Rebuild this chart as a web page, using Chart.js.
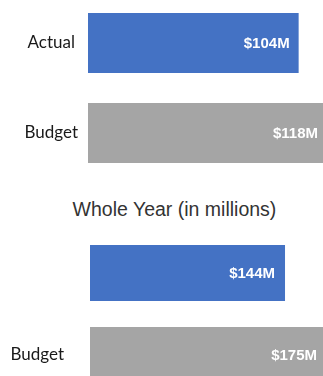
<!DOCTYPE html>
<html>
<head>
<meta charset="utf-8">
<script src="https://cdn.jsdelivr.net/npm/chart.js@4"></script>
<style>
  html, body { margin: 0; padding: 0; background: #fff; }
  body { width: 323px; height: 376px; overflow: hidden; position: relative; }
  .box { position: absolute; left: 0; width: 327px; }
  #boxYtd { top: -2px; height: 180px; }
  #boxYear { top: 232px; height: 164px; }
  #yearTitle {
    position: absolute; left: 0; width: 349px; top: 198px;
    text-align: center; font: 19.5px "Liberation Sans", Arial, sans-serif; color: #333;
  }
</style>
</head>
<body>
<div class="box" id="boxYtd"><canvas id="chartYtd"></canvas></div>
<div id="yearTitle">Whole Year (in millions)</div>
<div class="box" id="boxYear"><canvas id="chartYear"></canvas></div>
<script>
// ── data ──
const ytdLabels = ['Actual', 'Budget'];
const ytdValues = [104, 118];
const yearLabels = ['', 'Budget'];
const yearValues = [144, 175];
const barColors = ['#4472C4', '#A5A5A5'];

// value text inside the right end of each bar
const barValueLabels = {
  id: 'barValueLabels',
  afterDatasetsDraw(chart, args, opts) {
    const ctx = chart.ctx;
    const meta = chart.getDatasetMeta(0);
    const values = chart.data.datasets[0].data;
    ctx.save();
    ctx.font = 'bold 15px "Liberation Sans", Arial, sans-serif';
    ctx.fillStyle = '#fff';
    ctx.textAlign = 'right';
    ctx.textBaseline = 'middle';
    meta.data.forEach((bar, i) => {
      ctx.fillText('$' + values[i] + 'M', bar.x - opts.inset, bar.y + 1);
    });
    ctx.restore();
  },
};

function makeBars(id, labels, values, cfg) {
  return new Chart(document.getElementById(id), {
    type: 'bar',
    data: {
      labels,
      datasets: [{
        data: values,
        backgroundColor: barColors,
        borderWidth: 0,
        barPercentage: cfg.barPct,
        categoryPercentage: 1,
      }],
    },
    options: {
      indexAxis: 'y',
      responsive: true,
      maintainAspectRatio: false,
      animation: false,
      layout: { padding: 0 },
      plugins: {
        legend: { display: false },
        tooltip: { enabled: false },
        barValueLabels: { inset: cfg.inset },
      },
      scales: {
        x: { display: false, min: 0, max: Math.max(...values) },
        y: {
          border: { display: false },
          grid: { display: false, drawTicks: false, tickLength: 0 },
          ticks: {
            color: '#1a1a1a',
            font: { family: 'Lato', size: 17 },
            padding: cfg.tickPad,
            crossAlign: cfg.align,
          },
          // fixed axis width, and no extra room above/below for the labels
          afterFit(axis) {
            axis.width = cfg.axisWidth;
            axis.paddingTop = 0;
            axis.paddingBottom = 0;
          },
        },
      },
    },
    plugins: [barValueLabels],
  });
}

makeBars('chartYtd', ytdLabels, ytdValues, { barPct: 0.667, inset: 9, tickPad: 10, align: 'center', axisWidth: 88 });
makeBars('chartYear', yearLabels, yearValues, { barPct: 0.683, inset: 10, tickPad: 26, align: 'near', axisWidth: 90 });
</script>
</body>
</html>
